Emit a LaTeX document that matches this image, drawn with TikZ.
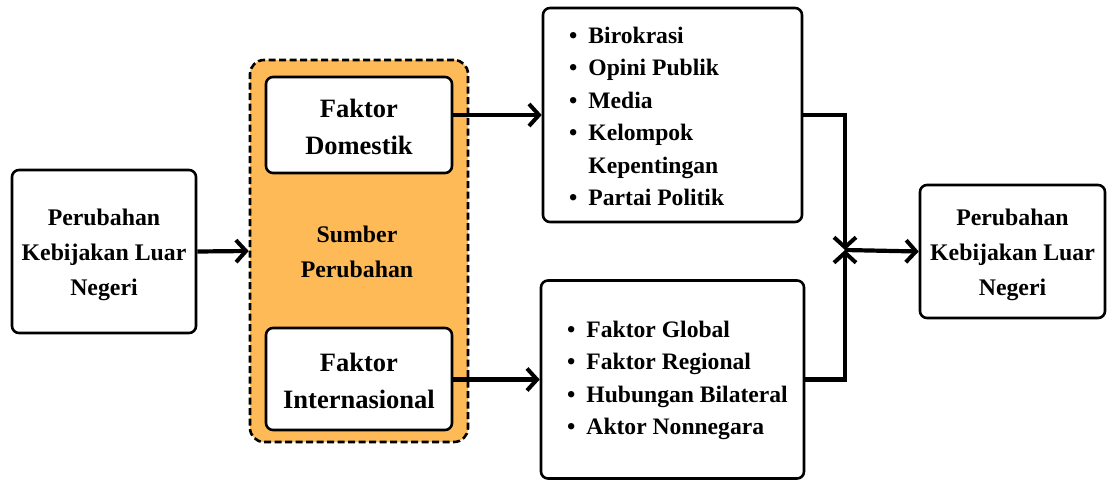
\documentclass[tikz,border=0pt]{standalone}
\usepackage{fontspec}
\setmainfont{Liberation Serif}
\usetikzlibrary{arrows.meta}
\definecolor{srcorange}{RGB}{253,186,86}
\begin{document}
\begin{tikzpicture}[x=1pt,y=-1pt,
  box/.style={draw=black, line width=2.6pt, rounded corners=7pt, fill=white, inner sep=0pt},
  txt/.style={font=\fontsize{23.8}{35}\selectfont\bfseries, align=center},
  bigtxt/.style={font=\fontsize{26.5}{37}\selectfont\bfseries, align=center},
  lst/.style={font=\fontsize{23.6}{32.4}\selectfont\bfseries, align=left, anchor=north west, inner sep=0pt},
  conn/.style={line width=4.2pt},
  arr/.style={conn, -{Straight Barb[length=10pt,width=22pt,line width=4pt]}},
]
\useasboundingbox (0,0) rectangle (1107,479);
% left box
\node[box, minimum width=184pt, minimum height=163pt] (L) at (104,251.5) {};
\node[txt] (Lt) at (104,254.5) {Perubahan\\Kebijakan Luar\\Negeri};
% container
\node[draw=black, dash pattern=on 7pt off 3.5pt, line width=2.6pt, rounded corners=14pt, fill=srcorange,
      minimum width=218pt, minimum height=382pt, inner sep=0pt] (C) at (359,251) {};
\node[txt] (Ct) at (357,252) {Sumber\\Perubahan};
\node[box, minimum width=186pt, minimum height=96pt] (D) at (359,125) {};
\node[bigtxt] (Dt) at (359,127) {Faktor\\Domestik};
\node[box, minimum width=186pt, minimum height=102pt] (I) at (359,379) {};
\node[bigtxt] (It) at (359,381) {Faktor\\Internasional};
% list boxes
\node[box, minimum width=259pt, minimum height=214pt] (T) at (672.5,115) {};
\node[lst] (Tt) at (569,27) {\textbullet\hspace{11pt}Birokrasi\\
\textbullet\hspace{11pt}Opini Publik\\
\textbullet\hspace{11pt}Media\\
\textbullet\hspace{11pt}Kelompok\\
\phantom{\textbullet}\hspace{11pt}Kepentingan\\
\textbullet\hspace{11pt}Partai Politik};
\node[box, minimum width=263pt, minimum height=198pt] (B) at (672.5,379.5) {};
\node[lst] (Bt) at (567,321) {\textbullet\hspace{11pt}Faktor Global\\
\textbullet\hspace{11pt}Faktor Regional\\
\textbullet\hspace{11pt}Hubungan Bilateral\\
\textbullet\hspace{11pt}Aktor Nonnegara};
% right box
\node[box, minimum width=185pt, minimum height=133pt] (R) at (1012.5,251.5) {};
\node[txt] (Rt) at (1012.5,254.5) {Perubahan\\Kebijakan Luar\\Negeri};
% junction
\coordinate (J) at (845,250);
% connectors
\draw[arr] (L.east) -- (C.west);
\draw[arr] (D.east |- T.west) -- (T.west);
\draw[arr] (I.east |- B.west) -- (B.west);
\draw[arr] (T.east) -| (J);
\draw[arr] (B.east) -| (J);
\draw[arr] (J) -- (R.west);
\end{tikzpicture}
\end{document}
